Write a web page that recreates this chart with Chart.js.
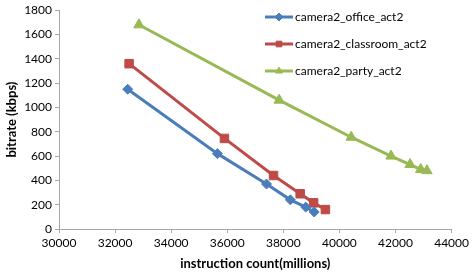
<!DOCTYPE html>
<html>
<head>
<meta charset="utf-8">
<script src="https://cdn.jsdelivr.net/npm/chart.js@4.4.0/dist/chart.umd.min.js"></script>
<style>
  html, body { margin: 0; padding: 0; background: #fff; }
  #wrap { width: 472px; height: 276px; position: relative; }
</style>
</head>
<body>
<div id="wrap"><canvas id="c" width="472" height="276"></canvas></div>
<script>
// series names + (instruction count, bitrate) pairs
const seriesNames = ['camera2_office_act2', 'camera2_classroom_act2', 'camera2_party_act2'];
const officeX = [32450, 35650, 37400, 38250, 38800, 39100];
const officeY = [1150, 620, 370, 240, 180, 140];
const classroomX = [32500, 35900, 37650, 38600, 39080, 39500];
const classroomY = [1360, 745, 440, 290, 215, 160];
const partyX = [32850, 37850, 40420, 41840, 42520, 42900, 43120];
const partyY = [1680, 1060, 755, 600, 530, 490, 480];
const xTicks = [30000, 32000, 34000, 36000, 38000, 40000, 42000, 44000];
const yTicks = [0, 200, 400, 600, 800, 1000, 1200, 1400, 1600, 1800];

const colors = ['#4a7ebb', '#be4b48', '#98b954'];
const markers = ['rectRot', 'rect', 'triangle'];
const radii = [5, 6, 6];

const pts = (xs, ys) => xs.map((x, i) => ({ x, y: ys[i] }));
const seriesData = [pts(officeX, officeY), pts(classroomX, classroomY), pts(partyX, partyY)];

const FONT = 'Lato, "Open Sans", sans-serif';

// legend drawn inside the plot, top right
const insideLegend = {
  id: 'insideLegend',
  afterDraw(chart) {
    const ctx = chart.ctx;
    const x0 = 265, y0 = 17, step = 27;
    ctx.save();
    chart.data.datasets.forEach((ds, i) => {
      const y = y0 + i * step;
      ctx.strokeStyle = ds.borderColor;
      ctx.lineWidth = 3;
      ctx.beginPath();
      ctx.moveTo(x0, y);
      ctx.lineTo(x0 + 28, y);
      ctx.stroke();
      ctx.fillStyle = ds.borderColor;
      ctx.lineWidth = 1;
      Chart.helpers.drawPoint(ctx, { pointStyle: ds.pointStyle, radius: 4, borderWidth: 1 }, x0 + 14, y);
      ctx.fillStyle = '#000';
      ctx.font = '12px ' + FONT;
      ctx.textBaseline = 'middle';
      ctx.fillText(ds.label, x0 + 30, y);
    });
    ctx.restore();
  }
};

new Chart(document.getElementById('c'), {
  type: 'scatter',
  data: {
    datasets: seriesNames.map((name, i) => ({
      label: name,
      data: seriesData[i],
      showLine: true,
      borderColor: colors[i],
      backgroundColor: colors[i],
      borderWidth: 3,
      pointStyle: markers[i],
      pointRadius: radii[i],
      pointBorderWidth: 1,
      pointBorderColor: colors[i],
    })),
  },
  options: {
    responsive: false,
    animation: false,
    layout: { padding: { top: 5, right: 18, left: 0, bottom: 0 } },
    plugins: { legend: { display: false }, tooltip: { enabled: false } },
    scales: {
      x: {
        type: 'linear', min: 30000, max: 44000,
        afterBuildTicks: s => { s.ticks = xTicks.map(v => ({ value: v })); },
        afterFit: s => { s.height = 47; },
        grid: { drawOnChartArea: false, drawTicks: true, tickLength: 4, color: '#a6a6a6' },
        border: { color: '#a6a6a6', width: 1 },
        ticks: { color: '#000', font: { family: FONT, size: 12 }, padding: 3, maxRotation: 0,
                 callback: v => String(v) },
        title: { display: true, text: 'instruction count(millions)', color: '#000',
                 font: { family: FONT, size: 13, weight: 'bold' }, padding: { top: 6 } },
      },
      y: {
        min: 0, max: 1800,
        afterBuildTicks: s => { s.ticks = yTicks.map(v => ({ value: v })); },
        afterFit: s => { s.width = 59; },
        grid: { drawOnChartArea: false, drawTicks: true, tickLength: 4, color: '#a6a6a6' },
        border: { color: '#a6a6a6', width: 1 },
        ticks: { color: '#000', font: { family: FONT, size: 12 }, padding: 3,
                 callback: v => String(v) },
        title: { display: true, text: 'bitrate (kbps)', color: '#000',
                 font: { family: FONT, size: 13, weight: 'bold' }, padding: { bottom: 0 } },
      },
    },
  },
  plugins: [insideLegend],
});
</script>
</body>
</html>
